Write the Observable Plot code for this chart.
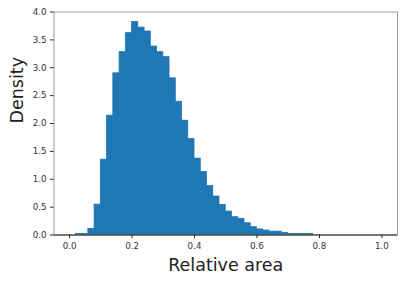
<!DOCTYPE html>
<html>
<head>
<meta charset="utf-8">
<script src="https://cdn.jsdelivr.net/npm/d3@7"></script>
<script src="https://cdn.jsdelivr.net/npm/@observablehq/plot@0.6"></script>
<style>
  html, body { margin: 0; padding: 0; background: #fff; }
</style>
</head>
<body>
<div id="chart"></div>
<script>
// Histogram: 50 bins of width 0.02 over [0, 1]
const binWidth = 0.02;
const density = [
  0.00, 0.02, 0.02, 0.11, 0.545, 1.35, 2.14, 2.90, 3.28, 3.62,
  3.82, 3.72, 3.65, 3.38, 3.28, 3.19, 2.81, 2.39, 2.05, 1.72,
  1.37, 1.13, 0.88, 0.69, 0.54, 0.42, 0.32, 0.29, 0.21, 0.14,
  0.10, 0.08, 0.06, 0.06, 0.035, 0.018, 0.018, 0.018, 0.018, 0.00,
  0.00, 0.00, 0.00, 0.00, 0.00, 0.00, 0.00, 0.00, 0.00, 0.00
];
const xTicks = [0, 0.2, 0.4, 0.6, 0.8, 1.0];
const yTicks = [0, 0.5, 1.0, 1.5, 2.0, 2.5, 3.0, 3.5, 4.0];
const xLabel = "Relative area";
const yLabel = "Density";

const bins = density.map((d, i) => ({x1: i * binWidth, x2: (i + 1) * binWidth, y: d}));

const chart = Plot.plot({
  width: 407,
  height: 281,
  marginLeft: 53.5,
  marginRight: 10,
  marginTop: 11.5,
  marginBottom: 46.5,
  style: {fontFamily: "DejaVu Sans", fontSize: "8.7px", color: "#333", background: "#fff"},
  x: {domain: [-0.05, 1.05]},
  y: {domain: [0, 4.0]},
  marks: [
    Plot.rectY(bins.filter(d => d.y > 0), {x1: "x1", x2: "x2", y: "y", fill: "#1f77b4", stroke: "#1f77b4", strokeWidth: 0.8, inset: 0}),
    Plot.frame({stroke: "#999", strokeWidth: 1}),
    Plot.ruleY([0], {stroke: "#222", strokeWidth: 1}),
    Plot.axisX({ticks: xTicks, tickFormat: d3.format(".1f"), tickSize: 3.5, tickPadding: 4, label: null, stroke: "#222", fill: "#333"}),
    Plot.axisY({ticks: yTicks, tickFormat: d3.format(".1f"), tickSize: 3.5, tickPadding: 4, label: null, stroke: "#222", fill: "#333"}),
    Plot.text([xLabel], {frameAnchor: "bottom", dy: 30, fontSize: 17.5, fill: "#222", lineAnchor: "middle"}),
    Plot.text([yLabel], {frameAnchor: "left", dx: -37, rotate: -90, fontSize: 17.5, fill: "#222", lineAnchor: "middle"})
  ]
});
document.getElementById("chart").appendChild(chart);
</script>
</body>
</html>
